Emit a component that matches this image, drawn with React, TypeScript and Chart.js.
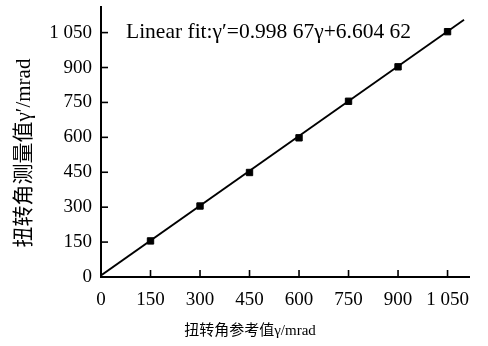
import React, { useEffect, useRef } from "react";
import { Chart, registerables } from "chart.js";

Chart.register(...registerables);

const refValues = [150, 300, 450, 600, 750, 900, 1050];
const measuredValues = [155, 305, 449, 598, 755, 903, 1054];
const fitX = [0, 1100];
const fitY = [6.6, 1105.1];
const tickValues = [0, 150, 300, 450, 600, 750, 900, 1050];
const xTitle = "扭转角参考值γ/mrad";
const yTitle = "扭转角测量值γ′/mrad";
const fitLabel = "Linear fit:γ′=0.998 67γ+6.604 62";

const SERIF = "'Liberation Serif', 'Times New Roman', serif";
const MIXED = "'Liberation Serif', 'Noto Sans CJK SC', serif";

const fmt = (v: number) => {
  const s = String(Math.round(v));
  return s.length > 3 ? s.slice(0, s.length - 3) + " " + s.slice(s.length - 3) : s;
};

const decorPlugin = {
  id: "decor",
  afterDraw(chart: any) {
    const { ctx, chartArea, scales } = chart;
    const xs = scales.x;
    const ys = scales.y;
    ctx.save();
    ctx.strokeStyle = "#000";
    ctx.lineWidth = 1.6;
    tickValues.forEach((v) => {
      if (v === 0) return;
      const px = xs.getPixelForValue(v);
      ctx.beginPath();
      ctx.moveTo(px, chartArea.bottom);
      ctx.lineTo(px, chartArea.bottom - 7);
      ctx.stroke();
      const py = ys.getPixelForValue(v);
      ctx.beginPath();
      ctx.moveTo(chartArea.left, py);
      ctx.lineTo(chartArea.left + 7, py);
      ctx.stroke();
    });
    ctx.fillStyle = "#000";
    ctx.font = "21.5px " + SERIF;
    ctx.textAlign = "left";
    ctx.textBaseline = "middle";
    ctx.fillText(fitLabel, chartArea.left + 25, ys.getPixelForValue(1050));
    ctx.font = "15px " + MIXED;
    ctx.textAlign = "center";
    ctx.textBaseline = "middle";
    ctx.fillText(xTitle, 250, 331);
    ctx.font = "21px " + MIXED;
    ctx.translate(24, 153);
    ctx.rotate(-Math.PI / 2);
    ctx.fillText(yTitle, 0, 0);
    ctx.restore();
  },
};

export default function App() {
  const ref = useRef<HTMLCanvasElement | null>(null);
  useEffect(() => {
    if (!ref.current) return;
    const chart = new Chart(ref.current, {
      type: "scatter",
      data: {
        datasets: [
          {
            label: "fit",
            data: fitX.map((x, i) => ({ x, y: fitY[i] })),
            showLine: true,
            borderColor: "#000",
            borderWidth: 1.8,
            pointRadius: 0,
            fill: false,
          },
          {
            label: "measured",
            data: refValues.map((x, i) => ({ x, y: measuredValues[i] })),
            pointStyle: "rect",
            pointRadius: 4.5,
            backgroundColor: "#000",
            borderColor: "#000",
            borderWidth: 1,
          },
        ],
      },
      options: {
        animation: false,
        responsive: true,
        maintainAspectRatio: false,
        layout: { padding: { top: 7, right: 19, left: 0, bottom: 0 } },
        plugins: { legend: { display: false }, tooltip: { enabled: false } },
        scales: {
          x: {
            type: "linear",
            min: 0,
            max: 1115,
            afterFit: (s: any) => {
              s.height = 69;
              s.paddingLeft = 0;
              s.paddingRight = 0;
            },
            border: { display: true, color: "#000", width: 2 },
            grid: { display: false, drawTicks: false },
            ticks: {
              stepSize: 150,
              includeBounds: false,
              autoSkip: false,
              maxRotation: 0,
              padding: 12,
              color: "#000",
              font: { family: SERIF, size: 19 },
              callback: (v: any) => fmt(Number(v)),
            },
          },
          y: {
            type: "linear",
            min: 0,
            max: 1160,
            afterFit: (s: any) => {
              s.width = 101;
              s.paddingTop = 0;
              s.paddingBottom = 0;
            },
            border: { display: true, color: "#000", width: 2 },
            grid: { display: false, drawTicks: false },
            ticks: {
              stepSize: 150,
              includeBounds: false,
              autoSkip: false,
              padding: 9,
              color: "#000",
              font: { family: SERIF, size: 19 },
              callback: (v: any) => fmt(Number(v)),
            },
          },
        },
      },
      plugins: [decorPlugin],
    });
    return () => chart.destroy();
  }, []);
  return (
    <div style={{ position: "fixed", left: 0, top: 0, width: 488, height: 346, background: "#fff" }}>
      <canvas ref={ref} />
    </div>
  );
}
